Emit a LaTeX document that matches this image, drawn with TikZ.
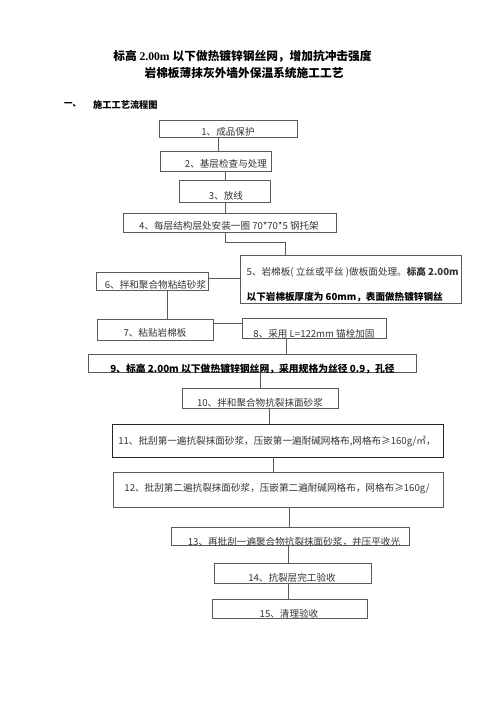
\documentclass[tikz,border=0pt]{standalone}
\usepackage{fontspec}
\newfontfamily\cjk{Noto Sans CJK SC}
\newfontfamily\serifb{Liberation Serif}[Scale=1]
\definecolor{boxgray}{HTML}{5A5A5A}
\definecolor{txtgray}{HTML}{333333}
\begin{document}
\begin{tikzpicture}[x=1pt,y=-1pt,
  box/.style={draw=boxgray, line width=0.7pt, inner sep=0pt, outer sep=0pt},
  lbl/.style={font=\cjk\fontsize{9.6}{11}\selectfont, text=txtgray, inner sep=0pt},
  conn/.style={draw=boxgray, line width=0.7pt}]
\useasboundingbox (0,0) rectangle (496,702);
% titles
\node[inner sep=0pt, font=\fontsize{11.7}{14}\selectfont] (title1) at (242.5,56.5)
  {{\cjk\bfseries 标高 }{\serifb\bfseries 2.00m }{\cjk\bfseries 以下做热镀锌钢丝网，增加抗冲击强度}};
\node[inner sep=0pt, font=\cjk\bfseries\fontsize{11.7}{14}\selectfont] (title2) at (244,73.5)
  {岩棉板薄抹灰外墙外保温系统施工工艺};
\node[inner sep=0pt, anchor=west, font=\cjk\bfseries\fontsize{8.5}{10}\selectfont] (h1) at (64,105) {一、};
\node[inner sep=0pt, anchor=west, font=\cjk\bfseries\fontsize{9.2}{10}\selectfont] (h2) at (93,105) {施工工艺流程图};
% boxes
\node[box, minimum width=138, minimum height=17] (b1) at (228,128.5) {};
\node[box, minimum width=111, minimum height=20] (b2) at (215.5,161) {};
\node[box, minimum width=91, minimum height=22] (b3) at (224.5,191) {};
\node[box, minimum width=213, minimum height=19] (b4) at (229.5,222.5) {};
\node[box, minimum width=221, minimum height=48] (b5) at (350.5,279) {};
\node[box, minimum width=112, minimum height=18] (b6) at (152,281) {};
\node[box, minimum width=116, minimum height=21] (b7) at (155,329.5) {};
\node[box, minimum width=144, minimum height=20] (b8) at (314,328) {};
\node[box, minimum width=328, minimum height=18] (b9) at (252,363) {};
\node[box, minimum width=156, minimum height=20] (b10) at (260,398) {};
\node[box, draw=black!85, line width=0.95pt, minimum width=331, minimum height=33] (b11) at (277.5,440.5) {};
\node[box, minimum width=330, minimum height=35] (b12) at (278,489.5) {};
\node[box, minimum width=238, minimum height=18] (b13) at (290,536) {};
\node[box, minimum width=157, minimum height=20] (b14) at (292.5,573) {};
\node[box, minimum width=155, minimum height=19] (b15) at (289.5,608.5) {};
% labels
\node[lbl] (t1) at (228,131.7) {1、成品保护};
\node[lbl] (t2) at (226,163.5) {2、基层检查与处理};
\node[lbl] (t3) at (226,196) {3、放线};
\node[lbl] (t4) at (229,226) {4、每层结构层处安装一圈 70*70*5 钢托架};
\node[lbl, anchor=west] (t5a) at (246.5,272) {5、岩棉板( 立丝或平丝 )做板面处理。\bfseries 标高 2.00m};
\node[lbl, anchor=west, font=\cjk\bfseries\fontsize{9.6}{11}\selectfont, text=black] (t5b) at (246.5,297.5) {以下岩棉板厚度为 60mm，表面做热镀锌钢丝};
\node[lbl] (t6) at (155.5,285) {6、拌和聚合物粘结砂浆};
\node[lbl] (t7) at (155,333) {7、粘贴岩棉板};
\node[lbl] (t8) at (314,333.5) {8、采用 L=122mm 锚栓加固};
\node[lbl, font=\cjk\bfseries\fontsize{9.8}{11}\selectfont, text=black] (t9) at (252.5,369) {9、标高 2.00m 以下做热镀锌钢丝网，采用规格为丝径 0.9，孔径};
\node[lbl] (t10) at (260,403) {10、拌和聚合物抗裂抹面砂浆};
\node[lbl] (t11) at (277,441.5) {11、批刮第一遍抗裂抹面砂浆，压嵌第一遍耐碱网格布,网格布≥160g/㎡，};
\node[lbl] (t12) at (277,488.5) {12、批刮第二遍抗裂抹面砂浆，压嵌第二遍耐碱网格布，网格布≥160g/};
\node[lbl] (t13) at (294,541.5) {13、再批刮一遍聚合物抗裂抹面砂浆，并压平收光};
\node[lbl] (t14) at (292,578) {14、抗裂层完工验收};
\node[lbl] (t15) at (289,614) {15、清理验收};
% connector positions
\coordinate (x12) at (218,0);
\coordinate (x23) at (225,0);
\coordinate (k45a) at (225,242);
\coordinate (k45b) at (285,242);
\coordinate (y65) at (0,278);
\coordinate (x67) at (167,0);
\coordinate (y78) at (0,323);
\coordinate (x89) at (286,0);
\coordinate (x910) at (260,0);
\coordinate (x1011) at (269,0);
\coordinate (x1112) at (273,0);
\coordinate (x1213) at (289,0);
\coordinate (x1314) at (288,0);
% connectors
\draw[conn] (b1.south -| x12) -- (b2.north -| x12);
\draw[conn] (b2.south -| x23) -- (b3.north -| x23);
\draw[conn] (b3.south -| x23) -- (b4.north -| x23);
\draw[conn] (b4.south -| k45a) -- (k45a) -- (k45b) -- (b5.north -| k45b);
\draw[conn] (b6.east |- y65) -- (b5.west |- y65);
\draw[conn] (b6.south -| x67) -- (b7.north -| x67);
\draw[conn] (b7.east |- y78) -- (b8.west |- y78);
\draw[conn] (b8.south -| x89) -- (b9.north -| x89);
\draw[conn] (b9.south -| x910) -- (b10.north -| x910);
\draw[conn] (b10.south -| x1011) -- (b11.north -| x1011);
\draw[conn] (b11.south -| x1112) -- (b12.north -| x1112);
\draw[conn] (b12.south -| x1213) -- (b13.north -| x1213);
\draw[conn] (b13.south -| x1314) -- (b14.north -| x1314);
\draw[conn] (b14.south -| x1314) -- (b15.north -| x1314);
\end{tikzpicture}
\end{document}
